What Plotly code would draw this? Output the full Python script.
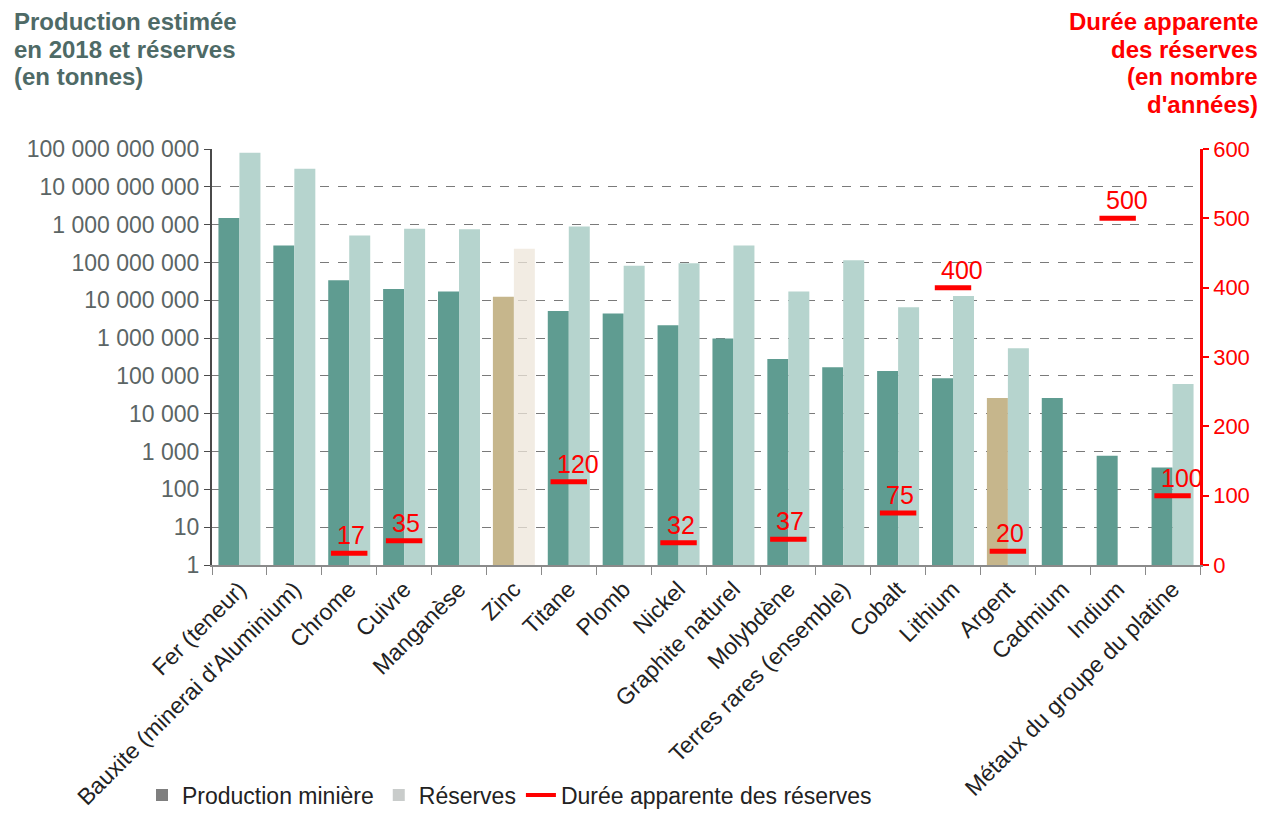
import plotly.graph_objects as go

# Minerais / métaux
categories = [
    "Fer (teneur)", "Bauxite (minerai d'Aluminium)", "Chrome", "Cuivre",
    "Manganèse", "Zinc", "Titane", "Plomb", "Nickel", "Graphite naturel",
    "Molybdène", "Terres rares (ensemble)", "Cobalt", "Lithium", "Argent",
    "Cadmium", "Indium", "Métaux du groupe du platine",
]

# Production minière estimée en 2018 (tonnes)
production = [
    1.5e9, 2.8e8, 3.4e7, 2.0e7, 1.7e7, 1.23e7, 5.2e6, 4.5e6, 2.2e6, 9.8e5,
    2.8e5, 1.7e5, 1.35e5, 8.7e4, 2.6e4, 2.6e4, 775, 380,
]

# Réserves (tonnes) ; None = non renseigné
reserves = [
    8e10, 3e10, 5.2e8, 7.8e8, 7.6e8, 2.3e8, 8.9e8, 8.2e7, 9.5e7, 2.8e8,
    1.7e7, 1.15e8, 6.5e6, 1.3e7, 5.4e5, None, None, 6.1e4,
]

# Durée apparente des réserves (années) ; None = non renseigné
duree = [
    None, None, 17, 35, None, None, 120, None, 32, None,
    37, None, 75, 400, 20, None, 500, 100,
]

# Axe gauche (log) : graduations et libellés
log_tickvals = [1, 10, 100, 1e3, 1e4, 1e5, 1e6, 1e7, 1e8, 1e9, 1e10, 1e11]
log_ticktext = [
    "1", "10", "100", "1 000", "10 000", "100 000", "1 000 000",
    "10 000 000", "100 000 000", "1 000 000 000", "10 000 000 000",
    "100 000 000 000",
]

TEAL = "#5f9c91"
TEAL_LIGHT = "#b6d4ce"
TAN = "#c6b68c"
RED = "#ff0000"
FONT = "Liberation Sans, Arial, sans-serif"

W, H = 1265, 816
L, R, T, B = 212, 65, 149, 251
PW, PH = W - L - R, H - T - B

prod_colors = [TAN if c in ("Zinc", "Argent") else TEAL for c in categories]
res_colors = ["rgba(238,230,218,0.75)" if c == "Zinc" else TEAL_LIGHT for c in categories]

fig = go.Figure()

fig.add_trace(go.Bar(
    x=categories, y=production, name="Production minière",
    marker=dict(color=prod_colors, line=dict(width=0)),
    showlegend=False,
))
fig.add_trace(go.Bar(
    x=categories, y=reserves, name="Réserves",
    marker=dict(color=res_colors, line=dict(width=0)),
    showlegend=False,
))

dx = [c for c, d in zip(categories, duree) if d is not None]
dy = [d for d in duree if d is not None]
fig.add_trace(go.Scatter(
    x=dx, y=dy, yaxis="y2", mode="markers",
    marker=dict(symbol="line-ew", size=26, line=dict(width=5, color=RED), color=RED),
    showlegend=False, cliponaxis=False,
))

# Entrées de légende (carrés gris, tiret rouge)
fig.add_trace(go.Scatter(x=[categories[0]], y=[None], mode="markers",
                         name="Production minière",
                         marker=dict(symbol="square", size=12, color="#7f7f7f")))
fig.add_trace(go.Scatter(x=[categories[0]], y=[None], mode="markers",
                         name="Réserves",
                         marker=dict(symbol="square", size=12, color="#c9cccb")))
fig.add_trace(go.Scatter(x=[categories[0]], y=[None], yaxis="y2", mode="lines",
                         name="Durée apparente des réserves",
                         line=dict(color=RED, width=4)))

# Étiquettes de durée au-dessus des tirets
for c, d in zip(dx, dy):
    fig.add_annotation(
        x=c, y=d, yref="y2", text=str(d), showarrow=False,
        xanchor="left", yanchor="bottom", xshift=-14, yshift=2,
        font=dict(family=FONT, size=25, color=RED),
    )

# Titres des axes
left_title = ["Production estimée", "en 2018 et réserves", "(en tonnes)"]
right_title = ["Durée apparente", "des réserves", "(en nombre", "d'années)"]
for i, line in enumerate(left_title):
    fig.add_annotation(
        xref="paper", yref="paper", x=(12 - L) / PW, y=1 + (T - 22 - 27.5 * i) / PH,
        text=f"<b>{line}</b>", showarrow=False, xanchor="left", yanchor="middle",
        font=dict(family=FONT, size=24, color="#4e6a66"),
    )
for i, line in enumerate(right_title):
    fig.add_annotation(
        xref="paper", yref="paper", x=(1260 - L) / PW, y=1 + (T - 22 - 27.5 * i) / PH,
        text=f"<b>{line}</b>", showarrow=False, xanchor="right", yanchor="middle",
        font=dict(family=FONT, size=24, color=RED),
    )

fig.update_layout(
    width=W, height=H,
    margin=dict(l=L, r=R, t=T, b=B, autoexpand=False),
    paper_bgcolor="white", plot_bgcolor="white",
    barmode="group", bargap=0.235, bargroupgap=0,
    font=dict(family=FONT, color="#222222"),
    showlegend=True,
    legend=dict(
        orientation="h", x=142 / W, xanchor="left", y=(H - 795) / H, yanchor="middle",
        xref="container", yref="container",
        font=dict(family=FONT, size=23, color="#222222"),
        itemwidth=30, tracegroupgap=0, traceorder="normal",
        bgcolor="rgba(0,0,0,0)",
    ),
    xaxis=dict(
        type="category", tickangle=-45, automargin=False,
        range=[-0.5, len(categories) - 0.5],
        tickfont=dict(family=FONT, size=23, color="#222222"),
        showline=True, linecolor="#8a8a8a", linewidth=1.5,
        ticks="outside", tickson="boundaries", ticklen=8, tickcolor="#8a8a8a",
        showgrid=False, zeroline=False,
    ),
    yaxis=dict(
        type="log", range=[0, 11], automargin=False,
        tickvals=log_tickvals, ticktext=log_ticktext,
        tickfont=dict(family=FONT, size=23, color="#5b6565"),
        showline=True, linecolor="#4a4a4a", linewidth=2,
        ticks="outside", ticklen=6, tickcolor="#4a4a4a",
        showgrid=True, gridcolor="#7a7a7a", griddash="dash", gridwidth=1,
        zeroline=False,
    ),
    yaxis2=dict(
        overlaying="y", side="right", range=[0, 600], dtick=100, automargin=False,
        tickfont=dict(family=FONT, size=22, color=RED),
        showline=True, linecolor=RED, linewidth=2.5,
        ticks="outside", ticklen=6, tickcolor=RED, tickwidth=2,
        showgrid=False, zeroline=False,
    ),
)

fig.write_html("out.html")
